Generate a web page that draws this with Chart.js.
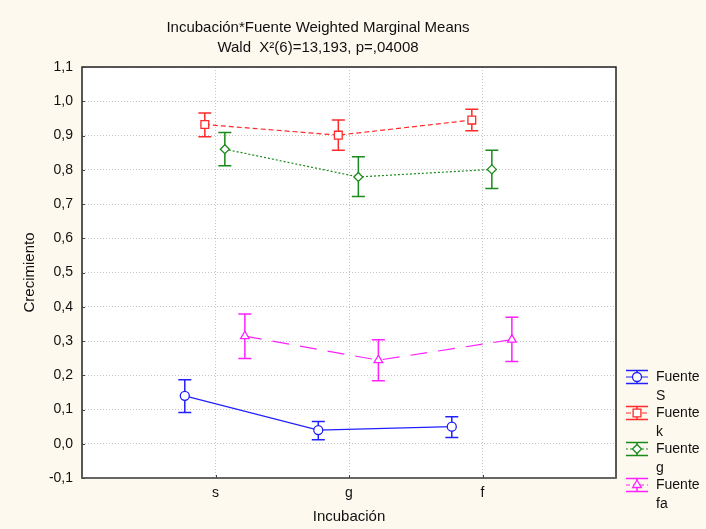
<!DOCTYPE html>
<html>
<head>
<meta charset="utf-8">
<script src="https://cdn.jsdelivr.net/npm/chart.js@4/dist/chart.umd.min.js"></script>
<style>
  html, body { margin: 0; padding: 0; background: #fef9ee; }
  #c { display: block; }
</style>
</head>
<body>
<canvas id="c" width="706" height="529"></canvas>
<script>
const categories = ["s", "g", "f"];
const seriesNames = ["S", "k", "g", "fa"];
const yTicks = [-0.1, 0, 0.1, 0.2, 0.3, 0.4, 0.5, 0.6, 0.7, 0.8, 0.9, 1.0, 1.1];

const meanS = [0.140, 0.040, 0.050];
const lowS = [0.091, 0.012, 0.018];
const highS = [0.187, 0.065, 0.079];

const meanK = [0.932, 0.901, 0.945];
const lowK = [0.896, 0.857, 0.914];
const highK = [0.966, 0.945, 0.977];

const meanG = [0.860, 0.779, 0.801];
const lowG = [0.812, 0.722, 0.745];
const highG = [0.909, 0.838, 0.857];

const meanFa = [0.314, 0.244, 0.304];
const lowFa = [0.249, 0.184, 0.240];
const highFa = [0.379, 0.304, 0.369];

// horizontal dodge of each series around its category
const dodge = [-0.23, -0.08, 0.07, 0.22];
const styles = [
  { color: "#2020ff", dash: [], point: "circle", r: 4.5 },
  { color: "#ff2a2a", dash: [5, 3], point: "rect", r: 5.5 },
  { color: "#1a8a1a", dash: [2, 2], point: "rectRot", r: 4.5 },
  { color: "#ff20ff", dash: [17, 11], point: "triangle", r: 5 },
];
const means = [meanS, meanK, meanG, meanFa];
const lows = [lowS, lowK, lowG, lowFa];
const highs = [highS, highK, highG, highFa];

const FONT = "'Liberation Sans', Arial, sans-serif";
const fmt = v => v.toFixed(1).replace(".", ",");

const datasets = seriesNames.map((name, i) => ({
  label: "Fuente " + name,
  data: means[i].map((m, j) => ({ x: j + 1 + dodge[i], y: m, lo: lows[i][j], hi: highs[i][j] })),
  showLine: true,
  borderColor: styles[i].color,
  borderWidth: 1.2,
  borderDash: styles[i].dash,
  pointStyle: styles[i].point,
  pointRadius: styles[i].r,
  pointBorderWidth: 1.3,
  pointBorderColor: styles[i].color,
  pointBackgroundColor: "#ffffff",
  tension: 0,
}));

const errorBars = {
  id: "errorBars",
  beforeDatasetsDraw(chart) {
    const ctx = chart.ctx, y = chart.scales.y;
    chart.data.datasets.forEach((ds, i) => {
      const meta = chart.getDatasetMeta(i);
      ctx.save();
      ctx.strokeStyle = ds.borderColor;
      ctx.lineWidth = 1.5;
      meta.data.forEach((pt, j) => {
        const d = ds.data[j];
        const yl = y.getPixelForValue(d.lo), yh = y.getPixelForValue(d.hi);
        ctx.beginPath();
        ctx.moveTo(pt.x, yl); ctx.lineTo(pt.x, yh);
        ctx.moveTo(pt.x - 6.5, yl); ctx.lineTo(pt.x + 6.5, yl);
        ctx.moveTo(pt.x - 6.5, yh); ctx.lineTo(pt.x + 6.5, yh);
        ctx.stroke();
      });
      ctx.restore();
    });
  },
};

const frame = {
  id: "frame",
  beforeDraw(chart) {
    const { ctx, chartArea: a } = chart;
    ctx.save();
    ctx.fillStyle = "#fef9ee";
    ctx.fillRect(0, 0, chart.width, chart.height);
    ctx.fillStyle = "#ffffff";
    ctx.fillRect(a.left, a.top, a.right - a.left, a.bottom - a.top);
    ctx.restore();
  },
  afterDraw(chart) {
    const { ctx, chartArea: a } = chart;
    ctx.save();
    ctx.strokeStyle = "#222";
    ctx.lineWidth = 1.5;
    ctx.strokeRect(a.left, a.top, a.right - a.left, a.bottom - a.top);
    ctx.strokeStyle = "#666";
    ctx.lineWidth = 2;
    ctx.beginPath();
    ctx.moveTo(a.left, a.bottom); ctx.lineTo(a.right, a.bottom);
    ctx.stroke();
    // small inner ticks
    ctx.strokeStyle = "#444";
    ctx.lineWidth = 1;
    ctx.beginPath();
    yTicks.forEach(v => {
      const py = Math.round(chart.scales.y.getPixelForValue(v)) + 0.5;
      ctx.moveTo(a.left, py); ctx.lineTo(a.left + 3, py);
    });
    categories.forEach((c, i) => {
      const px = Math.round(chart.scales.x.getPixelForValue(i + 1)) + 0.5;
      ctx.moveTo(px, a.bottom); ctx.lineTo(px, a.bottom - 3);
    });
    ctx.stroke();

    // title
    ctx.fillStyle = "#111";
    ctx.font = "15px " + FONT;
    ctx.textAlign = "center";
    ctx.textBaseline = "middle";
    ctx.fillText("Incubación*Fuente Weighted Marginal Means", 318, 28);
    ctx.fillText("Wald  X²(6)=13,193, p=,04008", 318, 48);

    // legend
    const ys = [377, 413, 449, 485];
    chart.data.datasets.forEach((ds, i) => {
      const cy = ys[i], cx = 637;
      ctx.strokeStyle = ds.borderColor;
      ctx.lineWidth = 1.5;
      ctx.setLineDash([]);
      ctx.beginPath();
      ctx.moveTo(626, cy - 6.5); ctx.lineTo(648, cy - 6.5);
      ctx.moveTo(626, cy + 6.5); ctx.lineTo(648, cy + 6.5);
      ctx.moveTo(cx, cy - 6.5); ctx.lineTo(cx, cy + 6.5);
      ctx.stroke();
      ctx.lineWidth = 1;
      ctx.setLineDash(i === 3 ? [4, 3] : ds.borderDash);
      ctx.beginPath();
      ctx.moveTo(626, cy); ctx.lineTo(648, cy);
      ctx.stroke();
      ctx.setLineDash([]);
      ctx.fillStyle = "#fff";
      ctx.lineWidth = 1.3;
      Chart.helpers.drawPoint(ctx, { pointStyle: ds.pointStyle, radius: ds.pointRadius, borderWidth: 1.3 }, cx, cy);
      ctx.fillStyle = "#111";
      ctx.textAlign = "left";
      ctx.font = "14px " + FONT;
      ctx.fillText("Fuente", 656, cy);
      ctx.fillText(seriesNames[i], 656, cy + 19);
    });
    ctx.restore();
  },
};

new Chart(document.getElementById("c"), {
  type: "scatter",
  data: { datasets },
  plugins: [frame, errorBars],
  options: {
    responsive: false,
    animation: false,
    layout: { padding: { top: 67, right: 90, left: 0, bottom: 0 } },
    plugins: { legend: { display: false }, title: { display: false }, tooltip: { enabled: false } },
    scales: {
      x: {
        type: "linear", min: 0, max: 4,
        afterFit: s => { s.height = 51; },
        afterBuildTicks: s => { s.ticks = categories.map((c, i) => ({ value: i + 1 })); },
        ticks: { padding: 7, color: "#111", font: { family: FONT, size: 14 },
          callback: v => categories[v - 1] },
        grid: { color: "#c4c4c4", drawTicks: false },
        border: { display: false, dash: [1, 2] },
        title: { display: true, text: "Incubación", color: "#111", font: { family: FONT, size: 15 }, padding: { bottom: 3, top: 0 } },
      },
      y: {
        type: "linear", min: -0.1, max: 1.1,
        afterFit: s => { s.width = 82; },
        afterBuildTicks: s => { s.ticks = yTicks.map(v => ({ value: v })); },
        ticks: { padding: 9, color: "#111", font: { family: FONT, size: 14 }, callback: v => fmt(v) },
        grid: { color: "#c4c4c4", drawTicks: false },
        border: { display: false, dash: [1, 2] },
        title: { display: true, text: "Crecimiento", color: "#111", font: { family: FONT, size: 15 }, padding: { top: 21, bottom: 0 } },
      },
    },
  },
});
</script>
</body>
</html>
